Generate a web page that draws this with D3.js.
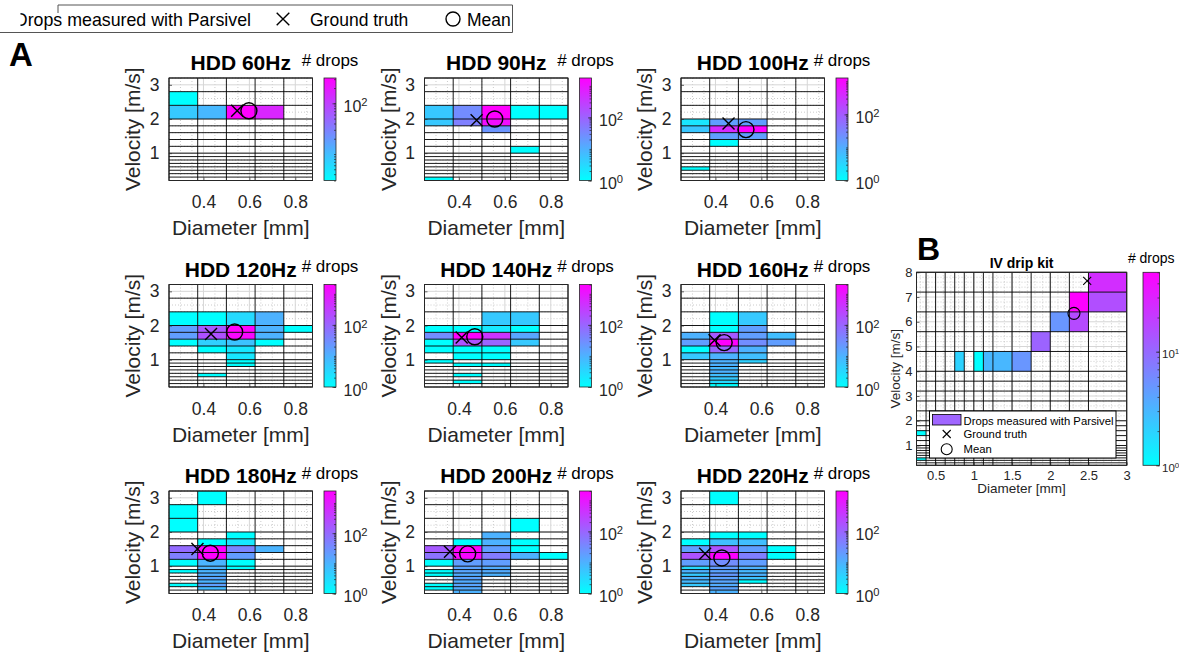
<!DOCTYPE html>
<html><head><meta charset="utf-8">
<script src="https://cdn.jsdelivr.net/npm/d3@7"></script>
<style>
body{margin:0;background:#fff;}
svg{display:block;font-family:"Liberation Sans",Arial,Helvetica,sans-serif;}
</style></head><body>
<svg id="chart" width="1179" height="652"></svg>
<script>
// ---------------- DATA ----------------
const diameterEdges = [0.25,0.375,0.5,0.625,0.75,0.875,1.0,1.125,1.25,1.5,1.75,2.0,2.25,2.5,3.0];
const velocityEdges = [0.2,0.3,0.4,0.5,0.6,0.7,0.8,0.9,1.0,1.2,1.4,1.6,1.8,2.0,2.4,2.8,3.2,3.6,4.0,4.8,5.6,6.4,7.2,8.0];

const panelTitles = ["HDD 60Hz","HDD 90Hz","HDD 100Hz","HDD 120Hz","HDD 140Hz","HDD 160Hz","HDD 180Hz","HDD 200Hz","HDD 220Hz"];

// cells: [diameter bin lower edge (mm), velocity bin lower edge (m/s), # drops]
const hdd60 = [[0.25,2.4,3],[0.25,2.0,8],[0.375,2.0,11],[0.5,2.0,316],[0.625,2.0,158]];
const hdd90 = [[0.25,2.0,5],[0.25,1.8,5],[0.375,2.0,29],[0.375,1.8,42],[0.5,2.0,1780],[0.5,1.8,1230],[0.5,1.6,23],
  [0.625,2.0,1],[0.75,2.0,1],[0.625,1.0,1],[0.25,0.2,1]];
const hdd100 = [[0.25,1.8,2],[0.25,1.6,5],[0.375,1.8,15],[0.5,1.8,15],[0.375,1.6,400],[0.5,1.6,1260],
  [0.375,1.4,15],[0.5,1.4,15],[0.375,1.2,1],[0.25,0.5,1]];
const hdd120 = [[0.25,2.0,1],[0.375,2.0,1],[0.5,2.0,3],[0.625,2.0,10],
  [0.25,1.8,18],[0.375,1.8,140],[0.5,1.8,2000],[0.625,1.8,10],[0.75,1.8,1],
  [0.25,1.6,18],[0.375,1.6,180],[0.5,1.6,1600],[0.625,1.6,10],
  [0.25,1.4,1],[0.375,1.4,4],[0.5,1.4,6],[0.625,1.4,1],
  [0.375,1.2,1],[0.5,1.2,2],[0.5,1.0,2],[0.5,0.9,1],[0.5,0.8,1],[0.375,0.5,1]];
const hdd140 = [[0.5,2.0,5],[0.625,2.0,5],
  [0.25,1.8,1],[0.375,1.8,1],[0.5,1.8,2],[0.625,1.8,1],
  [0.25,1.6,30],[0.375,1.6,2000],[0.5,1.6,440],[0.625,1.6,14],
  [0.25,1.4,1],[0.375,1.4,175],[0.5,1.4,95],[0.625,1.4,5],
  [0.25,1.2,1],[0.375,1.2,1],[0.5,1.2,1],[0.375,1.0,1],[0.5,1.0,1],[0.25,0.9,1],
  [0.375,0.8,1],[0.5,0.8,1],[0.375,0.5,1],[0.375,0.3,1]];
const hdd160 = [[0.375,2.0,1],[0.5,2.0,5],[0.375,1.8,1],[0.5,1.8,18],
  [0.25,1.6,10],[0.375,1.6,140],[0.5,1.6,18],[0.625,1.6,7],
  [0.25,1.4,18],[0.375,1.4,2000],[0.5,1.4,30],[0.625,1.4,18],
  [0.25,1.2,1],[0.375,1.2,95],[0.5,1.2,10],
  [0.25,1.0,5],[0.375,1.0,10],[0.5,1.0,7],[0.375,0.9,10],[0.5,0.9,4],
  [0.375,0.8,10],[0.375,0.7,8],[0.375,0.6,10],[0.375,0.5,7],[0.375,0.4,5],[0.375,0.3,3],[0.375,0.2,1]];
const hdd180 = [[0.375,2.8,1],[0.25,2.4,1],[0.25,2.0,1],[0.5,1.8,1],[0.375,1.6,1],[0.5,1.6,2],
  [0.25,1.4,94],[0.375,1.4,2500],[0.5,1.4,43],[0.625,1.4,10],
  [0.25,1.2,50],[0.375,1.2,2400],[0.5,1.2,20],
  [0.25,1.0,1],[0.375,1.0,10],[0.5,1.0,1],[0.375,0.9,10],[0.5,0.9,1],
  [0.25,0.8,1],[0.375,0.8,10],[0.375,0.7,12],[0.375,0.6,15],[0.375,0.5,10],[0.375,0.4,18],[0.25,0.4,1],[0.375,0.3,8]];
const hdd200 = [[0.625,2.0,1],[0.5,1.8,10],[0.375,1.6,1],[0.5,1.6,10],[0.625,1.6,1],
  [0.25,1.4,140],[0.375,1.4,2000],[0.5,1.4,18],[0.625,1.4,1],
  [0.25,1.2,65],[0.375,1.2,1700],[0.5,1.2,50],[0.625,1.2,10],[0.75,1.2,1],
  [0.25,1.0,1],[0.375,1.0,18],[0.5,1.0,18],[0.375,0.9,15],[0.5,0.9,12],
  [0.25,0.8,1],[0.375,0.8,14],[0.5,0.8,12],[0.25,0.7,1],[0.375,0.7,12],[0.5,0.7,10],
  [0.375,0.6,15],[0.375,0.5,12],[0.25,0.4,1],[0.375,0.4,14],[0.25,0.3,1],[0.375,0.3,12],[0.375,0.2,10]];
const hdd220 = [[0.375,2.8,1],[0.375,1.8,1],[0.5,1.8,1],
  [0.25,1.6,1],[0.375,1.6,7],[0.5,1.6,7],
  [0.25,1.4,18],[0.375,1.4,175],[0.5,1.4,18],[0.625,1.4,1],
  [0.25,1.2,175],[0.375,1.2,2000],[0.5,1.2,45],[0.625,1.2,1],
  [0.25,1.0,18],[0.375,1.0,30],[0.5,1.0,18],
  [0.25,0.9,3],[0.375,0.9,18],[0.5,0.9,10],[0.25,0.8,10],[0.375,0.8,15],[0.5,0.8,8],
  [0.25,0.7,5],[0.375,0.7,20],[0.5,0.7,10],[0.25,0.6,10],[0.375,0.6,15],[0.5,0.6,6],
  [0.25,0.5,8],[0.375,0.5,14],[0.5,0.5,1],[0.25,0.4,5],[0.375,0.4,12],[0.375,0.3,15],[0.375,0.2,10]];
const ivDripKit = [[2.5,7.2,25],[2.25,6.4,50],[2.5,6.4,15],[2.0,5.6,5],[2.25,5.6,16],[1.75,4.8,11],
  [0.75,4.0,2],[1.0,4.0,1],[1.125,4.0,3],[1.25,4.0,3],[1.5,4.0,5],[0.25,1.4,1],[0.25,0.4,1]];

const panelCells = [hdd60,hdd90,hdd100,hdd120,hdd140,hdd160,hdd180,hdd200,hdd220];
// [diameter, velocity]
const groundTruth = [[0.547,2.24],[0.477,1.96],[0.457,1.87],[0.433,1.75],[0.412,1.65],[0.396,1.57],[0.374,1.50],[0.361,1.42],[0.355,1.36]];
const meanPoint   = [[0.598,2.24],[0.556,2.00],[0.533,1.69],[0.536,1.81],[0.469,1.67],[0.438,1.50],[0.430,1.38],[0.438,1.36],[0.428,1.24]];
const colorbarTicks = [[100],[1,100],[1,100],[1,100],[1,100],[1,100],[1,100],[1,100],[1,100]];
const xTicksA = [0.4,0.6,0.8], yTicksA = [1,2,3];
const ivGroundTruth = [2.483,7.65], ivMean = [2.31,6.34];
const ivColorTicks = [1,10], ivColorDomain = [1,50];
const xTicksB = [0.5,1,1.5,2,2.5,3], yTicksB = [1,2,3,4,5,6,7,8];
const legendLabels = ["Drops measured with Parsivel","Ground truth","Mean"];

// ---------------- DRAWING ----------------
const svg = d3.select("#chart");
const INK = "#262626";
const defs = svg.append("defs");
const grad = defs.append("linearGradient").attr("id","coolGrad").attr("x1",0).attr("y1",1).attr("x2",0).attr("y2",0);
grad.append("stop").attr("offset","0%").attr("stop-color","#00ffff");
grad.append("stop").attr("offset","100%").attr("stop-color","#ff00ff");

const coolColor = t => d3.rgb(Math.round(255*t), Math.round(255*(1-t)), 255).formatHex();
const nextEdge = (edges, lo) => edges.find(e => e > lo + 1e-9);
const stepVals = (dom, step) => { const a=[]; for(let i=Math.ceil(dom[0]/step-1e-6); i*step<=dom[1]+1e-9; i++) a.push(+(i*step).toFixed(6)); return a; };
const isIn = (v, arr) => arr.some(m => Math.abs(m-v) < 1e-6);
const fmtNum = d => String(d);

function styleAxis(ax, size){
  ax.attr("font-size",null).attr("font-family",null);
  ax.select(".domain").remove();
  ax.selectAll("text").attr("font-size",size).attr("fill",INK);
  ax.selectAll("line").attr("stroke",INK).attr("stroke-width",0.7);
}

function drawPanel(P){
  const g = svg.append("g");
  const x = d3.scaleLinear().domain(P.xDom).range([P.left, P.left+P.w]);
  const y = d3.scaleLinear().domain(P.yDom).range([P.top+P.h, P.top]);
  g.append("rect").attr("x",P.left).attr("y",P.top).attr("width",P.w).attr("height",P.h).attr("fill","#fff");
  // minor grid
  const xMin = stepVals(P.xDom, P.xMinor).filter(v => !isIn(v, P.xTicks));
  const yMin = stepVals(P.yDom, P.yMinor).filter(v => !isIn(v, P.yTicks));
  g.append("g").selectAll("line").data(xMin).join("line")
    .attr("x1",d=>x(d)).attr("x2",d=>x(d)).attr("y1",P.top).attr("y2",P.top+P.h)
    .attr("stroke","#bfbfbf").attr("stroke-width",0.8).attr("stroke-dasharray","1,2");
  g.append("g").selectAll("line").data(yMin).join("line")
    .attr("y1",d=>y(d)).attr("y2",d=>y(d)).attr("x1",P.left).attr("x2",P.left+P.w)
    .attr("stroke","#bfbfbf").attr("stroke-width",0.8).attr("stroke-dasharray","1,2");
  // major grid
  g.append("g").selectAll("line").data(P.xTicks).join("line")
    .attr("x1",d=>x(d)).attr("x2",d=>x(d)).attr("y1",P.top).attr("y2",P.top+P.h)
    .attr("stroke","#d6d6d6").attr("stroke-width",1);
  g.append("g").selectAll("line").data(P.yTicks).join("line")
    .attr("y1",d=>y(d)).attr("y2",d=>y(d)).attr("x1",P.left).attr("x2",P.left+P.w)
    .attr("stroke","#d6d6d6").attr("stroke-width",1);
  // cells
  const cDom = P.cDom || d3.extent(P.cells, c => c[2]);
  const cs = d3.scaleLog().domain(cDom).range([0,1]).clamp(true);
  g.append("g").selectAll("rect").data(P.cells).join("rect")
    .attr("x", d => x(d[0]))
    .attr("width", d => x(nextEdge(diameterEdges,d[0])) - x(d[0]))
    .attr("y", d => y(nextEdge(velocityEdges,d[1])))
    .attr("height", d => y(d[1]) - y(nextEdge(velocityEdges,d[1])))
    .attr("fill", d => coolColor(cs(d[2])));
  // bin edges (empty bins shown)
  const dE = diameterEdges.filter(e => e >= P.xDom[0]-1e-9 && e <= P.xDom[1]+1e-9);
  const vE = velocityEdges.filter(e => e >= P.yDom[0]-1e-9 && e <= P.yDom[1]+1e-9);
  g.append("g").selectAll("line").data(dE).join("line")
    .attr("x1",d=>x(d)).attr("x2",d=>x(d)).attr("y1",P.top).attr("y2",P.top+P.h)
    .attr("stroke","#000").attr("stroke-width",0.9);
  g.append("g").selectAll("line").data(vE).join("line")
    .attr("y1",d=>y(d)).attr("y2",d=>y(d)).attr("x1",P.left).attr("x2",P.left+P.w)
    .attr("stroke","#000").attr("stroke-width",0.9);
  g.append("rect").attr("x",P.left).attr("y",P.top).attr("width",P.w).attr("height",P.h)
    .attr("fill","none").attr("stroke",INK).attr("stroke-width",1);
  // axes
  const ax = g.append("g").attr("transform",`translate(0,${P.top+P.h})`)
    .call(d3.axisBottom(x).tickValues(P.xTicks).tickSizeInner(-3).tickSizeOuter(0).tickPadding(P.xPad).tickFormat(fmtNum));
  styleAxis(ax, P.tickSize);
  const ay = g.append("g").attr("transform",`translate(${P.left},0)`)
    .call(d3.axisLeft(y).tickValues(P.yTicks).tickSizeInner(-3).tickSizeOuter(0).tickPadding(P.yPad).tickFormat(fmtNum));
  styleAxis(ay, P.tickSize);
  // axis labels
  g.append("text").attr("x",P.left+P.w/2).attr("y",P.top+P.h+P.xLabelDy).attr("text-anchor","middle")
    .attr("font-size",P.labelSize).attr("fill",INK).text("Diameter [mm]");
  g.append("text").attr("transform",`translate(${P.left-P.yLabelDx},${P.top+P.h/2}) rotate(-90)`)
    .attr("text-anchor","middle").attr("font-size",P.labelSize).attr("fill",INK).text("Velocity [m/s]");
  // markers
  const s = P.gtHalf, gx = x(P.gt[0]), gy = y(P.gt[1]);
  g.append("path").attr("d",`M${gx-s},${gy-s}L${gx+s},${gy+s}M${gx-s},${gy+s}L${gx+s},${gy-s}`)
    .attr("stroke","#000").attr("stroke-width",P.mw).attr("fill","none");
  g.append("circle").attr("cx",x(P.mean[0])).attr("cy",y(P.mean[1])).attr("r",P.meanR)
    .attr("stroke","#000").attr("stroke-width",P.mw).attr("fill","none");
  // title
  g.append("text").attr("x",P.left+P.w/2).attr("y",P.top-P.titleDy).attr("text-anchor","middle")
    .attr("font-size",P.titleSize).attr("font-weight","bold").attr("fill","#000").text(P.title);
  // colorbar
  const cy = d3.scaleLog().domain(cDom).range([P.top+P.h, P.top]);
  g.append("rect").attr("x",P.cbX).attr("y",P.top).attr("width",P.cbW).attr("height",P.h)
    .attr("fill","url(#coolGrad)").attr("stroke",INK).attr("stroke-width",0.8);
  const minorVals = [];
  for (let e = Math.floor(Math.log10(cDom[0])); e <= Math.ceil(Math.log10(cDom[1])); e++)
    for (let m = 1; m < 10; m++) { const v = m*Math.pow(10,e); if (v>=cDom[0] && v<=cDom[1]) minorVals.push(v); }
  const cm = g.append("g").attr("transform",`translate(${P.cbX+P.cbW},0)`)
    .call(d3.axisRight(cy).tickValues(minorVals).tickSizeInner(-2).tickSizeOuter(0).tickFormat(""));
  styleAxis(cm, P.cbTickSize);
  const ca = g.append("g").attr("transform",`translate(${P.cbX+P.cbW},0)`)
    .call(d3.axisRight(cy).tickValues(P.cbTicks).tickSizeInner(-3.5).tickSizeOuter(0).tickPadding(P.cbPad).tickFormat(""));
  styleAxis(ca, P.cbTickSize);
  ca.selectAll("text").attr("dy","0.5em").each(function(d){
    const t = d3.select(this);
    t.append("tspan").text("10");
    t.append("tspan").attr("dy","-0.5em").attr("font-size",P.cbTickSize*0.7).text(Math.round(Math.log10(d)));
  });
  g.append("text").attr("x",P.cbX+P.cbW/2).attr("y",P.top-P.cbLabelDy).attr("text-anchor","middle")
    .attr("font-size",P.cbLabelSize).attr("fill","#000").text("# drops");
}

// Panel A layout
const colLefts = [169,424.5,681], rowTops = [78,284.5,491];
panelCells.forEach((cells,i) => {
  const r = Math.floor(i/3), c = i%3;
  drawPanel({
    left: colLefts[c], top: rowTops[r], w: 143.5, h: 102.5,
    xDom: [0.25,0.875], yDom: [0.2,3.2], xTicks: xTicksA, yTicks: yTicksA, xMinor: 0.05, yMinor: 0.2,
    cells, gt: groundTruth[i], mean: meanPoint[i], title: panelTitles[i], cbTicks: colorbarTicks[i],
    titleSize: 21, titleDy: 8, tickSize: 17.5, labelSize: 21, xPad: 15.4, yPad: 9.5, xLabelDy: 54.5, yLabelDx: 29,
    gtHalf: 6, meanR: 8, mw: 1.4,
    cbX: colLefts[c]+155, cbW: 12, cbTickSize: 16, cbPad: 7.5, cbLabelSize: 17, cbLabelDy: 12.5
  });
});

// Panel B
drawPanel({
  left: 916.5, top: 272.3, w: 210.2, h: 193,
  xDom: [0.25,3.0], yDom: [0.2,8.0], xTicks: xTicksB, yTicks: yTicksB, xMinor: 0.1, yMinor: 0.2,
  cells: ivDripKit, gt: ivGroundTruth, mean: ivMean, title: "IV drip kit", cbTicks: ivColorTicks, cDom: ivColorDomain,
  titleSize: 14, titleDy: 4, tickSize: 13, labelSize: 13.5, xPad: 5, yPad: 4, xLabelDy: 28, yLabelDx: 17,
  gtHalf: 4, meanR: 6, mw: 1.1,
  cbX: 1143, cbW: 16.5, cbTickSize: 11.5, cbPad: 2.5, cbLabelSize: 14, cbLabelDy: 9.5
});

// Legend inside B
const lg = svg.append("g");
lg.append("rect").attr("x",929.5).attr("y",411).attr("width",186.5).attr("height",47)
  .attr("fill","#fff").attr("stroke","#000").attr("stroke-width",1);
lg.append("rect").attr("x",932.5).attr("y",414.5).attr("width",28.5).attr("height",10.5)
  .attr("fill","#a066ff").attr("stroke","#000").attr("stroke-width",0.8);
lg.append("path").attr("d","M942.7,430L950.7,438M942.7,438L950.7,430").attr("stroke","#000").attr("stroke-width",1.1);
lg.append("circle").attr("cx",946.7).attr("cy",449.3).attr("r",5.5).attr("fill","none").attr("stroke","#000").attr("stroke-width",1.1);
lg.selectAll("text").data(legendLabels).join("text")
  .attr("x",963.5).attr("y",(d,i)=>[424.5,438.3,453.3][i]).attr("font-size",11.3).attr("fill","#000").text(d=>d);

// Top legend
const tl = svg.append("g");
tl.append("line").attr("x1",0).attr("x2",512.5).attr("y1",32.5).attr("y2",32.5).attr("stroke","#555");
tl.append("line").attr("x1",58).attr("x2",512.5).attr("y1",5).attr("y2",5).attr("stroke","#555");
tl.append("line").attr("x1",512.5).attr("x2",512.5).attr("y1",5).attr("y2",32.5).attr("stroke","#555");
tl.append("line").attr("x1",58).attr("x2",58).attr("y1",5).attr("y2",13).attr("stroke","#555");
tl.append("text").attr("x",251).attr("y",26).attr("text-anchor","end").attr("font-size",17.8).attr("fill","#000").text(legendLabels[0]);
tl.append("rect").attr("x",0).attr("y",7).attr("width",20.5).attr("height",24).attr("fill","#fff");
tl.append("path").attr("d","M276.7,12.7L289.3,25.3M276.7,25.3L289.3,12.7").attr("stroke","#000").attr("stroke-width",1.4);
tl.append("text").attr("x",310).attr("y",26).attr("font-size",17.5).attr("fill","#000").text(legendLabels[1]);
tl.append("circle").attr("cx",453).attr("cy",19).attr("r",7).attr("fill","none").attr("stroke","#000").attr("stroke-width",1.4);
tl.append("text").attr("x",467).attr("y",26).attr("font-size",17.5).attr("fill","#000").text(legendLabels[2]);

// Panel letters
svg.append("text").attr("x",9).attr("y",66).attr("font-size",33).attr("font-weight","900").attr("fill","#000").text("A");
svg.append("text").attr("x",917).attr("y",260).attr("font-size",32).attr("font-weight","900").attr("fill","#000").text("B");
</script>
</body></html>
